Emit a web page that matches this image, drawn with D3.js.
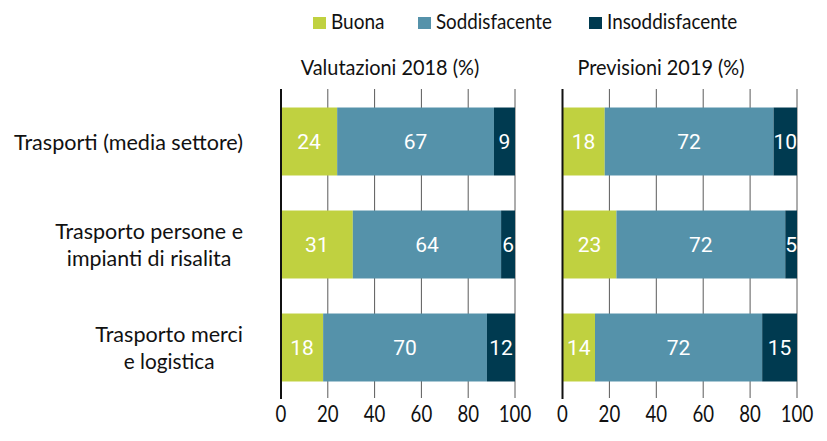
<!DOCTYPE html>
<html><head><meta charset="utf-8">
<script src="https://cdn.jsdelivr.net/npm/d3@7"></script>
<style>body{margin:0;background:#fff}svg{display:block}</style>
</head><body>
<svg id="c" width="827" height="441"></svg>
<script>
const categories = [["Trasporti (media settore)"], ["Trasporto persone e", "impianti di risalita"], ["Trasporto merci", "e logistica"]];
const seriesNames = ["Buona", "Soddisfacente", "Insoddisfacente"];
const colors = ["#c0d140", "#5592aa", "#003a50"];
const panelTitles = ["Valutazioni 2018 (%)", "Previsioni 2019 (%)"];
const valori2018 = [[24, 67, 9], [31, 64, 6], [18, 70, 12]];
const previsioni2019 = [[18, 72, 10], [23, 72, 5], [14, 72, 15]];
const ticks = [0, 20, 40, 60, 80, 100];

const MEASURE = "'Open Sans', sans-serif";
const FONT = "Lato, sans-serif";
const svg = d3.select("#c");
function condense(sel, f) {
  sel.attr("font-family", MEASURE);
  sel.each(function() {
    const w = this.getComputedTextLength();
    d3.select(this).attr("textLength", w * f).attr("lengthAdjust", "spacingAndGlyphs");
  });
  sel.attr("font-family", FONT);
  return sel;
}
const y = d3.scaleBand().domain(d3.range(categories.length)).range([90, 399]).paddingInner(0.34).paddingOuter(0.17);
const panels = [
  {data: valori2018, x: d3.scaleLinear().domain([0, 100]).range([281, 515]), title: panelTitles[0], tx: 390},
  {data: previsioni2019, x: d3.scaleLinear().domain([0, 100]).range([562.5, 797]), title: panelTitles[1], tx: 661}
];

panels.forEach(p => {
  const g = svg.append("g");
  g.selectAll("line.grid").data(ticks.slice(1)).join("line")
    .attr("x1", d => p.x(d)).attr("x2", d => p.x(d))
    .attr("y1", 89).attr("y2", 398).attr("stroke", "#5a5a5a").attr("stroke-width", 1);
  p.data.forEach((vals, i) => {
    const sum = d3.sum(vals);
    let cum = 0;
    vals.forEach((v, j) => {
      const x0 = p.x(cum / sum * 100), x1 = p.x((cum + v) / sum * 100);
      cum += v;
      g.append("rect").attr("x", x0).attr("y", y(i)).attr("width", x1 - x0).attr("height", y.bandwidth()).attr("fill", colors[j]);
      g.append("text").attr("x", (x0 + x1) / 2).attr("y", y(i) + y.bandwidth() / 2 + 7.5)
        .attr("text-anchor", "middle").attr("fill", "#fff").attr("font-family", "Roboto, sans-serif").attr("font-size", 21).text(v);
    });
  });
  g.append("line").attr("x1", p.x(0)).attr("x2", p.x(0)).attr("y1", 89).attr("y2", 399).attr("stroke", "#111").attr("stroke-width", 2);
  condense(g.selectAll("text.tick").data(ticks).join("text").attr("class", "tick")
    .attr("x", d => p.x(d)).attr("y", 422).attr("text-anchor", "middle")
    .attr("font-size", 23).attr("fill", "#111").text(d => d), 0.82);
  condense(g.append("text").attr("x", p.tx).attr("y", 75).attr("text-anchor", "middle")
    .attr("font-size", 21).attr("fill", "#111").text(p.title), 0.91);
});

categories.forEach((lines, i) => {
  const cy = y(i) + y.bandwidth() / 2;
  const tmp = lines.map(l => condense(svg.append("text").attr("font-size", 22).attr("fill", "#111").text(l), 0.9));
  const widths = tmp.map(t => +t.attr("textLength"));
  const maxW = d3.max(widths);
  const center = 243 - maxW / 2;
  const lh = 27;
  tmp.forEach((t, k) => {
    t.attr("text-anchor", "middle").attr("x", center)
     .attr("y", cy + (k - (lines.length - 1) / 2) * lh + 8);
  });
});

const legX = [313, 418, 589];
seriesNames.forEach((n, i) => {
  svg.append("rect").attr("x", legX[i]).attr("y", 17).attr("width", 13).attr("height", 12).attr("fill", colors[i]);
  condense(svg.append("text").attr("x", legX[i] + 18).attr("y", 29).attr("font-size", 21).attr("fill", "#111").text(n), 0.84);
});
</script>
</body></html>
